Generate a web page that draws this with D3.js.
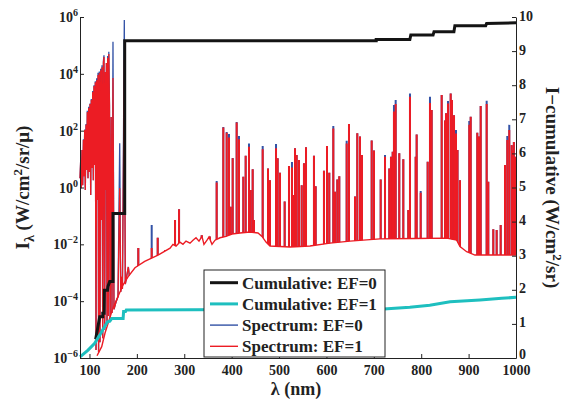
<!DOCTYPE html>
<html lang="en">
<head>
<meta charset="UTF-8">
<title>Spectrum and cumulative intensity</title>
<script src="https://d3js.org/d3.v7.min.js"></script>
<style>
    body { margin: 0; background: #fff; }
    text { font-family: "Liberation Serif", "Times New Roman", serif; font-weight: bold; fill: #222; }
    .axis path, .axis line { stroke: #222; }
</style>
</head>
<body>
<div id="chart"></div>
<script>
// wavelength ticks (nm)
const xTicks = [100, 200, 300, 400, 500, 600, 700, 800, 900, 1000];
const yLeftTicks = [1e-6, 1e-4, 1e-2, 1e0, 1e2, 1e4, 1e6];
const yLeftExp = ["\u22126", "\u22124", "\u22122", "0", "2", "4", "6"];
const yRightTicks = [0, 1, 2, 3, 4, 5, 6, 7, 8, 9, 10];

// far-UV part of the spectrum: [nm, EF=1, EF=0]
const farUV = [
    [80, 2.1, 2.1], [81.5, 9.3, 9.3], [82.7, 0.95, 0.95], [84.2, 21, 21], [85.7, 1.2, 1.2],
    [87.2, 47, 50], [88.4, 2.5, 2.5], [89.9, 105, 110], [91.2, 0.81, 0.81], [92.7, 160, 170],
    [94.1, 4.1, 4.1], [95.4, 450, 500], [96.9, 2.1, 2.1], [98.4, 630, 700], [99.6, 3.5, 3.5],
    [101.1, 870, 900], [102.6, 0.55, 0.55], [103.8, 1200, 1300], [105.3, 4.9, 4.9], [106.8, 2300, 2500],
    [108.1, 1.8, 1.8], [109.5, 3700, 4000], [111, 6.2, 6.2], [112.3, 5100, 5500], [113.8, 1.9e-6, 1.9e-6],
    [115.2, 6000, 7000], [116.7, 0.36, 0.36], [118, 9100, 1.1e4], [119.2, 1.6e-6, 1.6e-6], [120.7, 1.07e4, 1.2e4],
    [122.2, 3.6e-6, 3.6e-6], [123.7, 1.35e4, 1.5e4], [125.2, 7.2e-2, 7.2e-2], [126.4, 1.7e4, 2e4],
    [127.9, 5e-6, 5e-6], [129.4, 2.4e4, 2.8e4], [130.6, 3.9e4, 4.5e4], [132.1, 9.8e-6, 9.8e-6],
    [133.6, 1.15e4, 1.15e4], [134.9, 0.81, 0.81], [135.7, 2.4e4, 2.4e4], [137, 1.9e-5, 1.9e-5],
    [138.4, 3.6e4, 4.2e4], [139.9, 3e-5, 3e-5], [140.8, 5e4, 6e4], [142.2, 800, 800], [143.7, 2.6e-5, 2.6e-5],
    [145.8, 300, 300], [147.5, 3.8e-5, 3.8e-5], [149.6, 7100, 1.35e5], [151.7, 5.2e-5, 5.2e-5],
    [156, 9.3e-5, 9.3e-5], [160.2, 1.45e-4, 1.45e-4], [163.8, 0.95, 36], [165.9, 2.1e-4, 2.1e-4],
    [168, 7.2e-4, 7.2e-4], [169.5, 2.7e-4, 2.7e-4], [173.5, 3.1e4, 7.8e5], [175.6, 4e-4, 4e-4],
    [182, 1.6e-3, 1.6e-3], [184, 8e-4, 8e-4]
];

// smooth continuum under the lines: [nm, value]
const continuum = [
    [115.9, 1.2e-6], [125.8, 2.5e-6], [132.8, 7.6e-6], [142.7, 2.5e-5], [149.6, 5.8e-5], [160.2, 1.45e-4],
    [170.7, 3.7e-4], [181.3, 7.2e-4], [196, 1.5e-3], [216.5, 2.5e-3], [244.6, 4.2e-3], [270, 7.3e-3],
    [276.2, 1.0e-2], [282.6, 8.7e-3], [291, 1.2e-2], [297.3, 1.0e-2], [303.7, 1.3e-2], [312.1, 1.1e-2],
    [318.4, 1.4e-2], [324.8, 1.7e-2], [331.1, 1.3e-2], [337.4, 1.9e-2], [341.6, 1.0e-2], [348, 1.4e-2],
    [352.2, 1.8e-2], [358.5, 1.0e-2], [364.9, 1.4e-2], [375.4, 1.7e-2], [388.1, 1.9e-2], [400.7, 2.3e-2],
    [417.6, 2.5e-2], [438.7, 2.7e-2], [455.6, 2.5e-2], [464, 1.9e-2], [472.5, 1.2e-2], [480.9, 8.7e-3],
    [523.1, 8.1e-3], [565.3, 8.7e-3], [607.5, 1.1e-2], [649.7, 1.3e-2], [713, 1.55e-2], [786.9, 1.6e-2],
    [853.8, 1.66e-2], [874.8, 1.4e-2], [881.8, 8.3e-3], [895.9, 5.5e-3], [913.4, 4.2e-3], [1000, 4.2e-3]
];

// emission lines: [nm, peak EF=1, peak EF=0]
const spikes = [
    [203, 7.4e-3, 7.4e-3], [231.3, 7.4e-3, 4.8e-2], [244, 1.7e-2, 1.7e-2], [260, 6.3e-3, 6.3e-3],
    [280.5, 7.2e-2, 7.2e-2], [289, 0.17, 0.17], [336.8, 2.1e-2, 2.1e-2], [354, 1.9e-2, 1.9e-2],
    [368.4, 1.5, 1.7], [382.4, 130, 135], [389.5, 85, 90], [394.4, 58, 76], [398, 0.21, 0.21],
    [402.2, 10.7, 11], [410.6, 195, 200], [415.5, 50, 65], [424.6, 2.4, 2.4], [429.6, 13, 13],
    [436.6, 27, 35], [440.2, 0.81, 0.81], [444.4, 4.4, 4.4], [447.1, 7.2e-2, 7.2e-2], [465.5, 22, 29],
    [476.7, 4.7, 4.7], [480.9, 1.8, 1.8], [493.6, 24, 34], [497.1, 10.7, 10.7], [502, 3.3, 3.3],
    [511.9, 0.32, 0.32], [521, 5.7, 5.7], [527.3, 5.1, 7.9], [530.1, 0.55, 0.55], [533.7, 24, 24],
    [537.2, 14, 14], [542.1, 9.3, 9.3], [547.8, 1.2, 1.2], [552.6, 7.1, 7.1], [556.9, 26, 26],
    [573.7, 13, 13], [577.3, 1.1, 1.1], [594.8, 3.9, 3.9], [601.2, 29, 29], [606, 3.3, 3.3],
    [614.5, 120, 145], [618, 0.71, 0.71], [622.9, 1.9, 1.9], [627.1, 2.5, 2.5], [642.7, 35, 44],
    [647.6, 170, 170], [660.3, 0.48, 0.48], [665.1, 81, 81], [670.8, 62, 62], [675, 14, 14],
    [695.5, 45, 45], [700.3, 20, 20], [714.5, 1.9, 1.9], [723.6, 12, 14], [732.6, 4.7, 4.7],
    [736.2, 12, 12], [739.8, 18, 18], [742.5, 470, 800], [746.1, 870, 1200], [753.7, 16, 16],
    [762.2, 9.8, 9.8], [772.7, 0.16, 0.16], [776.3, 1550, 2050], [788.3, 12, 12], [790.4, 74, 74],
    [798.9, 0.66, 0.75], [813.6, 8.1, 8.1], [818.5, 940, 1550], [822.1, 530, 530], [843.2, 1800, 1800],
    [850.2, 230, 230], [852.3, 410, 410], [856.5, 910, 1100], [862.2, 2050, 2050], [864.9, 1200, 1200],
    [869.2, 350, 350], [873.4, 80, 105], [876.6, 21, 21], [881.8, 1.8, 1.8], [901.4, 160, 220],
    [904.4, 310, 310], [918.3, 85, 85], [921.9, 62, 62], [925.5, 740, 740], [938.1, 870, 1130],
    [941.5, 1.6, 1.6], [952.1, 3.4e-2, 3.4e-2], [959.2, 3.2e-2, 3.2e-2], [967.7, 4.8e-2, 4.8e-2],
    [976.8, 6.2, 6.2], [981.6, 47, 65], [985.8, 105, 160], [990.9, 31, 31], [993, 20, 20],
    [995.5, 40, 40], [997.9, 12, 12]
];

// cumulative intensity (right axis), corners of the step curves
const cumEF0 = [
    [113, 0.55], [117, 0.85], [121.6, 1.21], [128, 1.21], [128, 1.31], [131, 1.31], [131.5, 1.99],
    [138, 1.99], [139, 2.1], [142.7, 2.24], [149.6, 2.24], [149.6, 4.24], [174.3, 4.24], [174.3, 9.30],
    [705, 9.30], [705, 9.34], [776, 9.34], [778, 9.47], [825, 9.47], [827, 9.57], [869, 9.57],
    [871, 9.74], [936, 9.74], [938, 9.81], [1000, 9.83]
];
const cumEF1 = [
    [80, 0.03], [97, 0.23], [111, 0.43], [121.6, 0.67], [126, 0.78], [132, 0.92], [138, 1.06],
    [143, 1.08], [147, 1.16], [171, 1.16], [172, 1.36], [176, 1.36], [177.7, 1.41], [713, 1.43],
    [776, 1.49], [818, 1.55], [861, 1.65], [924, 1.70], [970, 1.75], [1000, 1.78]
];

const seriesNames = ["Cumulative: EF=0", "Cumulative: EF=1", "Spectrum: EF=0", "Spectrum: EF=1"];
const colors = { black: "#141414", cyan: "#1ebfbf", blue: "#3352a6", red: "#ec1c24" };

const W = 570, H = 400;
const plotL = 80, plotR = 516, plotT = 17, plotB = 358;

const svg = d3.select("#chart").append("svg")
    .attr("width", W).attr("height", H);

const x = d3.scaleLinear().domain([80, 1000]).range([plotL, plotR]);
const yL = d3.scaleLog().domain([1e-6, 1e6]).range([plotB, plotT]);
const yR = d3.scaleLinear().domain([0, 10]).range([plotB, plotT]);

// clip spikes so they stop on the continuum
const defs = svg.append("defs");
defs.append("clipPath").attr("id", "aboveCont")
    .append("path")
    .attr("d", d3.area().x(d => x(d[0])).y0(0).y1(d => yL(d[1]))(continuum));

const lineUV = idx => d3.line().x(d => x(d[0])).y(d => yL(d[idx]));

// EF=0 spectrum (blue), mostly hidden under red
svg.append("path").datum(farUV)
    .attr("fill", "none").attr("stroke", colors.blue).attr("stroke-width", 1.3)
    .attr("d", lineUV(2));
svg.append("g").attr("clip-path", "url(#aboveCont)")
    .selectAll("line").data(spikes).join("line")
    .attr("x1", d => x(d[0])).attr("x2", d => x(d[0]))
    .attr("y1", d => yL(d[2])).attr("y2", plotB)
    .attr("stroke", colors.blue).attr("stroke-width", 2);

// EF=1 spectrum (red)
svg.append("path").datum(farUV)
    .attr("fill", "none").attr("stroke", colors.red).attr("stroke-width", 1.3)
    .attr("d", lineUV(1));
svg.append("path").datum(continuum)
    .attr("fill", "none").attr("stroke", colors.red).attr("stroke-width", 1.4)
    .attr("d", d3.line().x(d => x(d[0])).y(d => yL(d[1])));
svg.append("g").attr("clip-path", "url(#aboveCont)")
    .selectAll("line").data(spikes).join("line")
    .attr("x1", d => x(d[0])).attr("x2", d => x(d[0]))
    .attr("y1", d => yL(d[1])).attr("y2", plotB)
    .attr("stroke", colors.red).attr("stroke-width", 2);

// cumulative curves
const cumLine = d3.line().x(d => x(d[0])).y(d => yR(d[1]));
svg.append("path").datum(cumEF0)
    .attr("fill", "none").attr("stroke", colors.black).attr("stroke-width", 3)
    .attr("d", cumLine);
svg.append("path").datum(cumEF1)
    .attr("fill", "none").attr("stroke", colors.cyan).attr("stroke-width", 3)
    .attr("d", cumLine);

// axes
svg.append("g").attr("class", "axis")
    .attr("transform", `translate(0,${plotB})`)
    .style("font-size", "14px")
    .call(d3.axisBottom(x).tickValues(xTicks).tickFormat(d3.format("d"))
        .tickSize(-4).tickSizeOuter(0).tickPadding(7));

svg.append("g").attr("class", "axis")
    .attr("transform", `translate(${plotL},0)`)
    .call(d3.axisLeft(yL).tickValues(yLeftTicks).tickSize(-4).tickSizeOuter(0).tickFormat(""));

const rightAxis = svg.append("g").attr("class", "axis")
    .attr("transform", `translate(${plotR},0)`)
    .style("font-size", "14px")
    .call(d3.axisRight(yR).tickValues(yRightTicks).tickSize(-4).tickSizeOuter(0).tickPadding(3));
// the "0" label sits just above the bottom tick labels
rightAxis.selectAll("text").attr("dy", d => d === 0 ? "0.05em" : "0.22em");

svg.selectAll(".axis text").attr("fill", "#222");

// left tick labels as powers of ten
yLeftTicks.forEach((v, i) => {
    const t = svg.append("text")
        .attr("x", plotL - 2).attr("y", yL(v) + 5)
        .attr("text-anchor", "end")
        .style("font-size", "14px");
    t.append("tspan").text("10");
    t.append("tspan").attr("dy", -6).style("font-size", "10px").text(yLeftExp[i]);
});

// axis titles
const yt = svg.append("text")
    .attr("transform", `translate(29,${(plotT + plotB) / 2}) rotate(-90)`)
    .attr("text-anchor", "middle")
    .style("font-size", "19px");
yt.append("tspan").text("I");
yt.append("tspan").attr("dy", 5).style("font-size", "14px").text("\u03bb");
yt.append("tspan").attr("dy", -5).text(" (W/cm");
yt.append("tspan").attr("dy", -7).style("font-size", "13px").text("2");
yt.append("tspan").attr("dy", 7).text("/sr/\u03bc)");

const rt = svg.append("text")
    .attr("transform", `translate(546,${(plotT + plotB) / 2}) rotate(90)`)
    .attr("text-anchor", "middle")
    .style("font-size", "19px");
rt.append("tspan").text("I\u2212cumulative (W/cm");
rt.append("tspan").attr("dy", -7).style("font-size", "13px").text("2");
rt.append("tspan").attr("dy", 7).text("/sr)");

svg.append("text")
    .attr("x", 296).attr("y", 395)
    .attr("text-anchor", "middle")
    .style("font-size", "18px")
    .text("\u03bb (nm)");

// legend
const legend = svg.append("g").attr("transform", "translate(204,270)");
legend.append("rect")
    .attr("width", 181).attr("height", 87)
    .attr("fill", "#fff").attr("stroke", "#222").attr("stroke-width", 1);

const legendStyle = [
    { color: colors.black, width: 3 },
    { color: colors.cyan, width: 3 },
    { color: colors.blue, width: 1.4 },
    { color: colors.red, width: 1.4 }
];
seriesNames.forEach((name, i) => {
    const cy = 12.7 + i * 21.2;
    legend.append("line")
        .attr("x1", 6).attr("x2", 34).attr("y1", cy).attr("y2", cy)
        .attr("stroke", legendStyle[i].color).attr("stroke-width", legendStyle[i].width);
    legend.append("text")
        .attr("x", 38).attr("y", cy + 6)
        .style("font-size", "17px")
        .text(name);
});
</script>
</body>
</html>
